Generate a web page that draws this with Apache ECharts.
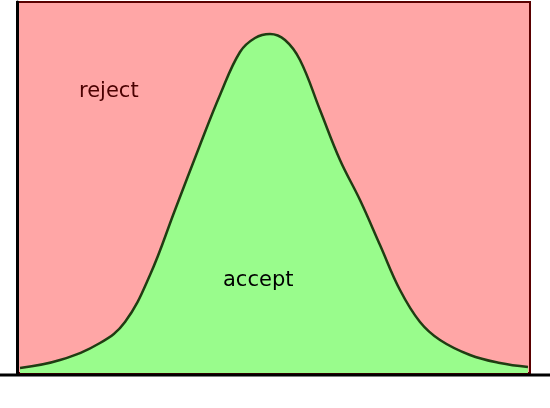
<!DOCTYPE html>
<html>
<head>
<meta charset="utf-8">
<script src="https://cdn.jsdelivr.net/npm/echarts@6/dist/echarts.min.js"></script>
<style>html,body{margin:0;padding:0;background:#fff}#chart{width:550px;height:408px}</style>
</head>
<body>
<div id="chart"></div>
<script>
// position along the box and height of the accept curve
var xs = [3, 43, 83, 108, 133, 158, 183, 203, 223, 238, 253, 268, 283, 303, 323, 343, 363, 383, 403, 423, 453, 483, 511];
var heights = [5, 13, 30, 51, 98, 163, 228, 278, 321, 335, 339, 333, 313, 263, 213, 173, 128, 83, 51, 33, 18, 10, 6];
var labels = ['reject', 'accept'];

var curve = xs.map(function (x, i) { return [x, heights[i]]; });

var myChart = echarts.init(document.getElementById('chart'));
var option = {
  animation: false,
  grid: {
    left: 17, right: 20, top: 2, bottom: 35,
    show: true,
    backgroundColor: '#ffa6a6',
    borderColor: '#5a0000',
    borderWidth: 2
  },
  xAxis: {
    type: 'value', min: 0, max: 513,
    axisLine: { show: false }, axisTick: { show: false },
    axisLabel: { show: false }, splitLine: { show: false }
  },
  yAxis: {
    type: 'value', min: 0, max: 371,
    axisLine: { show: true, lineStyle: { color: '#000', width: 3 } },
    axisTick: { show: false }, axisLabel: { show: false }, splitLine: { show: false }
  },
  series: [{
    type: 'line',
    data: curve,
    smooth: 0.4,
    symbol: 'none',
    lineStyle: { color: '#1f3d12', width: 2.5 },
    areaStyle: { color: '#99fc8c', opacity: 1 }
  }],
  graphic: [
    { type: 'line', z: 100, shape: { x1: 0, y1: 375, x2: 550, y2: 375 }, style: { stroke: '#000', lineWidth: 3 } },
    { type: 'text', z: 100, left: 79, top: 81, style: { text: labels[0], fill: '#4a0000', font: '21px "DejaVu Sans"' } },
    { type: 'text', z: 100, left: 223, top: 270, style: { text: labels[1], fill: '#000', font: '21px "DejaVu Sans"' } }
  ]
};
myChart.setOption(option);
</script>
</body>
</html>
